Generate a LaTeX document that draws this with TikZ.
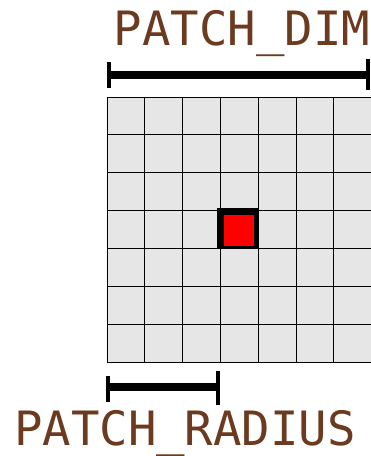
\documentclass[tikz,border=0pt]{standalone}
\usepackage{fontspec}
\setmonofont{DejaVu Sans Mono}
\usetikzlibrary{positioning}

\definecolor{labelbrown}{RGB}{107,58,31}
\definecolor{cellgray}{RGB}{230,230,230}

\begin{document}
\begin{tikzpicture}[
		x=1pt, y=-1pt,
		cell/.style={fill=cellgray, draw=black, line width=0.9pt},
		bar/.style={line width=7.5pt},
		tick/.style={line width=4pt},
		dimlabel/.style={font=\fontsize{47.3}{50}\selectfont\ttfamily, text=labelbrown, inner sep=0pt, anchor=base}
		]
		\useasboundingbox (0,0) rectangle (371,456);
		
		% --- 1. The patch grid ---
		\begin{scope}
			\clip (0,0) rectangle (371,456);
			\foreach \i in {0,...,6} {
				\foreach \j in {0,...,6} {
					\draw[cell] (107+\i*37.8,97+\j*37.9) rectangle ++(37.8,37.9);
				}
			}
		\end{scope}
		
		% Centre pixel
		\fill[black] (216.8,208.3) rectangle (257.8,249.3);
		\fill[red] (224,215) rectangle (254,246);
		
		% --- 2. PATCH_DIM marker ---
		\coordinate (dimL) at (108.5,75);
		\coordinate (dimR) at (368,75);
		\draw[bar] (dimL) -- (dimR);
		\draw[tick] ([yshift=-13pt]dimL) -- ([yshift=13pt]dimL);
		\draw[tick] ([yshift=-15pt]dimR) -- ([yshift=16pt]dimR);
		\node[dimlabel] (dim) at (242,45) {PATCH\_DIM};
		
		% --- 3. PATCH_RADIUS marker ---
		\coordinate (radL) at (108,387);
		\coordinate (radR) at (218,387);
		\draw[bar] (radL) -- (radR);
		\draw[tick] ([yshift=-15pt]radL) -- ([yshift=11pt]radL);
		\draw[tick] ([yshift=-18pt]radR) -- ([yshift=16pt]radR);
		\node[dimlabel] (radius) at (185,445) {PATCH\_RADIUS};
		
	\end{tikzpicture}
\end{document}
